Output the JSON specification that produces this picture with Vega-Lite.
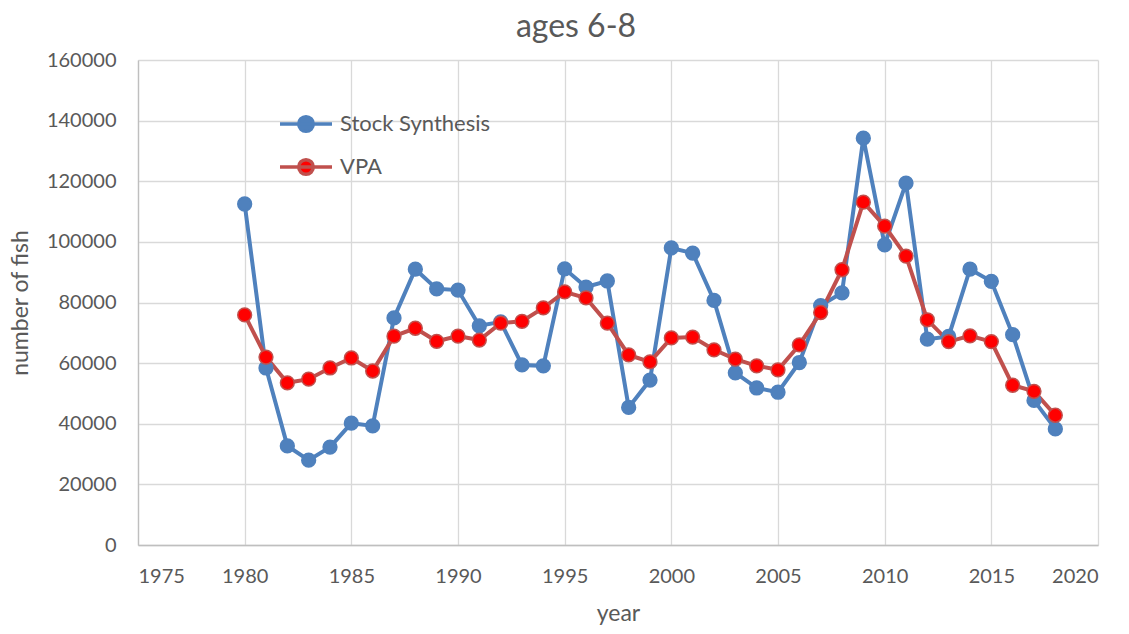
{
  "$schema": "https://vega.github.io/schema/vega-lite/v6.json",
  "width": 960,
  "height": 485,
  "autosize": {"type": "none"},
  "padding": {"left": 138, "top": 60, "right": 31, "bottom": 89},
  "background": "white",
  "title": {"text": "ages 6-8", "fontSize": 32, "font": "Lato", "fontWeight": "normal", "color": "#595959", "anchor": "middle", "dx": -42, "offset": 6},
  "config": {
    "view": {"stroke": null},
    "axis": {"labelFont": "Lato", "titleFont": "Lato", "labelColor": "#595959", "titleColor": "#595959", "labelFontSize": 20, "titleFontSize": 23, "titleFontWeight": "normal", "gridColor": "#D9D9D9", "gridWidth": 1.3, "domainColor": "#BFBFBF", "domainWidth": 1.3, "ticks": false}
  },
  "data": {"values": [
    {"year": 1980, "series": "Stock Synthesis", "value": 112500},
    {"year": 1981, "series": "Stock Synthesis", "value": 58400},
    {"year": 1982, "series": "Stock Synthesis", "value": 32700},
    {"year": 1983, "series": "Stock Synthesis", "value": 28000},
    {"year": 1984, "series": "Stock Synthesis", "value": 32300},
    {"year": 1985, "series": "Stock Synthesis", "value": 40200},
    {"year": 1986, "series": "Stock Synthesis", "value": 39300},
    {"year": 1987, "series": "Stock Synthesis", "value": 74900},
    {"year": 1988, "series": "Stock Synthesis", "value": 91000},
    {"year": 1989, "series": "Stock Synthesis", "value": 84500},
    {"year": 1990, "series": "Stock Synthesis", "value": 84100},
    {"year": 1991, "series": "Stock Synthesis", "value": 72300},
    {"year": 1992, "series": "Stock Synthesis", "value": 73600},
    {"year": 1993, "series": "Stock Synthesis", "value": 59400},
    {"year": 1994, "series": "Stock Synthesis", "value": 59100},
    {"year": 1995, "series": "Stock Synthesis", "value": 91100},
    {"year": 1996, "series": "Stock Synthesis", "value": 85100},
    {"year": 1997, "series": "Stock Synthesis", "value": 87100},
    {"year": 1998, "series": "Stock Synthesis", "value": 45400},
    {"year": 1999, "series": "Stock Synthesis", "value": 54400},
    {"year": 2000, "series": "Stock Synthesis", "value": 98000},
    {"year": 2001, "series": "Stock Synthesis", "value": 96300},
    {"year": 2002, "series": "Stock Synthesis", "value": 80700},
    {"year": 2003, "series": "Stock Synthesis", "value": 56800},
    {"year": 2004, "series": "Stock Synthesis", "value": 51800},
    {"year": 2005, "series": "Stock Synthesis", "value": 50400},
    {"year": 2006, "series": "Stock Synthesis", "value": 60200},
    {"year": 2007, "series": "Stock Synthesis", "value": 79000},
    {"year": 2008, "series": "Stock Synthesis", "value": 83200},
    {"year": 2009, "series": "Stock Synthesis", "value": 134200},
    {"year": 2010, "series": "Stock Synthesis", "value": 99000},
    {"year": 2011, "series": "Stock Synthesis", "value": 119400},
    {"year": 2012, "series": "Stock Synthesis", "value": 67900},
    {"year": 2013, "series": "Stock Synthesis", "value": 68800},
    {"year": 2014, "series": "Stock Synthesis", "value": 91000},
    {"year": 2015, "series": "Stock Synthesis", "value": 87000},
    {"year": 2016, "series": "Stock Synthesis", "value": 69400},
    {"year": 2017, "series": "Stock Synthesis", "value": 47700},
    {"year": 2018, "series": "Stock Synthesis", "value": 38300},
    {"year": 1980, "series": "VPA", "value": 75900},
    {"year": 1981, "series": "VPA", "value": 62000},
    {"year": 1982, "series": "VPA", "value": 53500},
    {"year": 1983, "series": "VPA", "value": 54700},
    {"year": 1984, "series": "VPA", "value": 58400},
    {"year": 1985, "series": "VPA", "value": 61700},
    {"year": 1986, "series": "VPA", "value": 57400},
    {"year": 1987, "series": "VPA", "value": 68900},
    {"year": 1988, "series": "VPA", "value": 71500},
    {"year": 1989, "series": "VPA", "value": 67200},
    {"year": 1990, "series": "VPA", "value": 68900},
    {"year": 1991, "series": "VPA", "value": 67600},
    {"year": 1992, "series": "VPA", "value": 73200},
    {"year": 1993, "series": "VPA", "value": 73800},
    {"year": 1994, "series": "VPA", "value": 78200},
    {"year": 1995, "series": "VPA", "value": 83500},
    {"year": 1996, "series": "VPA", "value": 81500},
    {"year": 1997, "series": "VPA", "value": 73200},
    {"year": 1998, "series": "VPA", "value": 62700},
    {"year": 1999, "series": "VPA", "value": 60400},
    {"year": 2000, "series": "VPA", "value": 68300},
    {"year": 2001, "series": "VPA", "value": 68600},
    {"year": 2002, "series": "VPA", "value": 64400},
    {"year": 2003, "series": "VPA", "value": 61300},
    {"year": 2004, "series": "VPA", "value": 59100},
    {"year": 2005, "series": "VPA", "value": 57800},
    {"year": 2006, "series": "VPA", "value": 66000},
    {"year": 2007, "series": "VPA", "value": 76700},
    {"year": 2008, "series": "VPA", "value": 90800},
    {"year": 2009, "series": "VPA", "value": 113100},
    {"year": 2010, "series": "VPA", "value": 105200},
    {"year": 2011, "series": "VPA", "value": 95300},
    {"year": 2012, "series": "VPA", "value": 74300},
    {"year": 2013, "series": "VPA", "value": 67100},
    {"year": 2014, "series": "VPA", "value": 69000},
    {"year": 2015, "series": "VPA", "value": 67100},
    {"year": 2016, "series": "VPA", "value": 52700},
    {"year": 2017, "series": "VPA", "value": 50700},
    {"year": 2018, "series": "VPA", "value": 42800}
  ]},
  "encoding": {
    "x": {"field": "year", "type": "quantitative", "scale": {"domain": [1975, 2020], "nice": false, "zero": false}, "axis": {"values": [1975, 1980, 1985, 1990, 1995, 2000, 2005, 2010, 2015, 2020], "format": "d", "title": "year", "labelPadding": 21, "titlePadding": 16}},
    "y": {"field": "value", "type": "quantitative", "scale": {"domain": [0, 160000], "nice": false}, "axis": {"values": [0, 20000, 40000, 60000, 80000, 100000, 120000, 140000, 160000], "format": "d", "title": "number of fish", "labelPadding": 22, "titlePadding": 14}}
  },
  "layer": [
    {
      "mark": {"type": "line", "strokeWidth": 4},
      "encoding": {
        "color": {"field": "series", "type": "nominal", "scale": {"domain": ["Stock Synthesis", "VPA"], "range": ["#4F81BD", "#C0504D"]},
          "legend": {"title": null, "orient": "none", "legendX": 140, "legendY": 36, "symbolType": "M-1,0L1,0M-0.28,0A0.28,0.28 0 1,0 0.28,0A0.28,0.28 0 1,0 -0.28,0", "symbolSize": 2704, "symbolStrokeWidth": 3.5, "labelFont": "Lato", "labelFontSize": 22, "labelColor": "#595959", "labelOffset": 6, "rowPadding": 0,
            "encode": {"symbols": {"update": {"fill": {"signal": "datum.value === 'VPA' ? '#FF0000' : '#4F81BD'"}, "fillOpacity": {"value": 1}, "stroke": {"signal": "datum.value === 'VPA' ? '#C0504D' : '#4F81BD'"}}}}}}
      }
    },
    {
      "mark": {"type": "point", "filled": true, "size": 190, "strokeWidth": 1.5, "opacity": 1},
      "encoding": {
        "fill": {"field": "series", "type": "nominal", "scale": {"domain": ["Stock Synthesis", "VPA"], "range": ["#4F81BD", "#FF0000"]}, "legend": null},
        "stroke": {"field": "series", "type": "nominal", "scale": {"domain": ["Stock Synthesis", "VPA"], "range": ["#4F81BD", "#C0504D"]}, "legend": null}
      }
    }
  ]
}
